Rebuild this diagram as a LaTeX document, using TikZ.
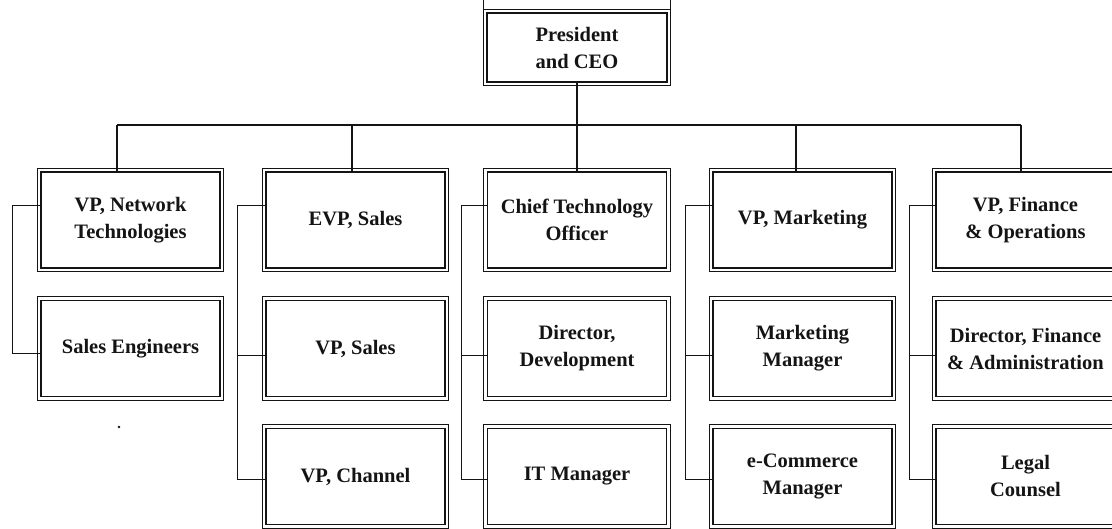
\documentclass[tikz,border=0pt]{standalone}
\usepackage{fontspec}
\setmainfont{Liberation Serif}
\usepackage{xcolor}
\usetikzlibrary{calc,positioning}
\definecolor{orgink}{HTML}{141414}

\begin{document}
\begin{tikzpicture}[
    x=1pt,
    y=-1pt,
    post/.style={draw=orgink, line width=1.6pt, fill=white, inner sep=0pt,
      minimum width=179pt, minimum height=96pt, align=center, text=orgink,
      font=\fontsize{20.5}{27}\selectfont\bfseries},
    frame/.style={draw=orgink, line width=0.75pt},
    bus/.style={draw=orgink, line width=2.3pt},
    bracket/.style={draw=orgink, line width=0.9pt}
  ]
    \useasboundingbox (0,0) rectangle (1112,529);

    % top of the chart
    \node[post, minimum width=180pt, minimum height=69pt] (N-ceo) at (577,47.5) {President\\and CEO};
    \draw[frame] ($(N-ceo.north west)+(-3,-3)$) rectangle ($(N-ceo.south east)+(3,3)$);
    \draw[frame] ($(N-ceo.north west)+(-3,-3)$) -- ++(0,-10);
    \draw[frame] ($(N-ceo.north east)+(3,-3)$) -- ++(0,-10);

    % 1. Network column
    \node[post] (N-net) at (130.5,220) {VP, Network\\Technologies};
    \node[post] (N-seng) at (130.5,348.5) {Sales Engineers};

    % 2. Sales column
    \node[post] (N-evp) at (355.5,220) {EVP, Sales};
    \node[post] (N-vpsales) at (355.5,348.5) {VP, Sales};
    \node[post] (N-channel) at (355.5,476.5) {VP, Channel};

    % 3. Technology column
    \node[post] (N-cto) at (577,220) {Chief Technology\\Officer};
    \node[post] (N-dev) at (577,348.5) {Director,\\Development};
    \node[post] (N-it) at (577,476.5) {IT Manager};

    % 4. Marketing column
    \node[post] (N-mkt) at (802.5,220) {VP, Marketing};
    \node[post] (N-mktmgr) at (802.5,348.5) {Marketing\\Manager};
    \node[post] (N-ecom) at (802.5,476.5) {e-Commerce\\Manager};

    % 5. Finance column
    \node[post] (N-fin) at (1025.5,220) {VP, Finance\\\& Operations};
    \node[post] (N-fadmin) at (1025.5,348.5) {Director, Finance\\\& Administration};
    \node[post] (N-legal) at (1025.5,476.5) {Legal\\Counsel};

    % thin outer frame round every box
    \foreach \n in {N-net,N-seng,N-evp,N-vpsales,N-channel,N-cto,N-dev,N-it,N-mkt,N-mktmgr,N-ecom,N-fin,N-fadmin,N-legal} {
      \draw[frame] ($(\n.north west)+(-3,-3)$) rectangle ($(\n.south east)+(3,3)$);
    }

    % bus from the top box down to the five columns
    \coordinate (drop-1) at (117,125);
    \coordinate (drop-2) at (352,125);
    \coordinate (drop-4) at (796,125);
    \coordinate (drop-5) at (1021,125);

    \draw[bus] (N-ceo.south) -- (N-ceo.south |- drop-1);
    \draw[bus] (drop-1) -- (drop-5);
    \draw[bus] (drop-1) -- (drop-1 |- N-net.north);
    \draw[bus] (drop-2) -- (drop-2 |- N-evp.north);
    \draw[bus] (N-ceo.south |- drop-1) -- (N-cto.north);
    \draw[bus] (drop-4) -- (drop-4 |- N-mkt.north);
    \draw[bus] (drop-5) -- (drop-5 |- N-fin.north);

    % side brackets inside each column
    \draw[bracket] (N-net.west |- 0,205) -- (12,205) -- (12,353) -- (N-seng.west |- 0,353);
    \foreach \bx/\a/\b/\c in {237/N-evp/N-vpsales/N-channel, 461/N-cto/N-dev/N-it,
                              685/N-mkt/N-mktmgr/N-ecom, 909/N-fin/N-fadmin/N-legal} {
      \draw[bracket] (\a.west |- 0,205) -- (\bx,205) -- (\bx,479) -- (\c.west |- 0,479);
      \draw[bracket] (\bx,355) -- (\b.west |- 0,355);
    }

    \fill[orgink] (119,427) circle (1.4);

  \end{tikzpicture}
\end{document}
